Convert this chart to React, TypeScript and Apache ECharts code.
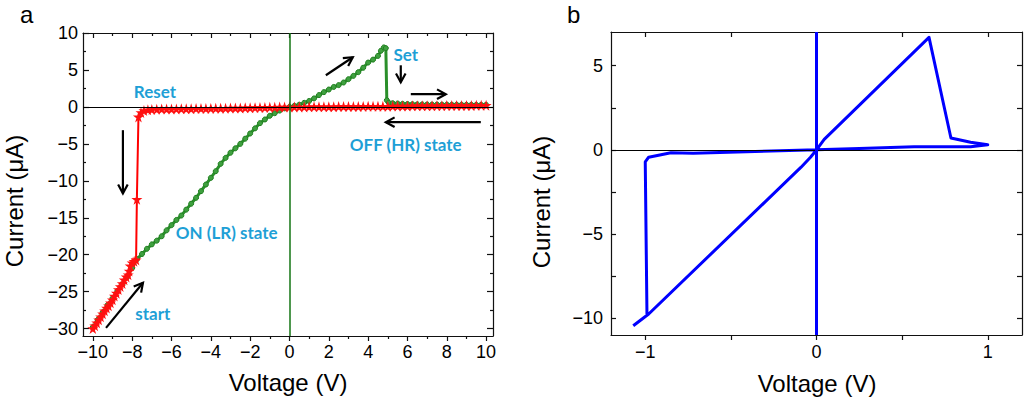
import React, { useEffect, useRef } from 'react';
import * as echarts from 'echarts';

// ---------- Panel a data (Voltage V, Current µA) ----------
const greenSweep: [number, number][] = [
  [-10, -29.8], [-9.75, -28.8], [-9.5, -27.8], [-9.25, -26.8], [-9, -25.9], [-8.75, -24.9], [-8.5, -24.0],
  [-8.25, -23.0], [-8, -21.8], [-7.75, -20.6], [-7.5, -19.9], [-7.25, -19.2], [-7, -18.6], [-6.75, -18.1],
  [-6.5, -17.5], [-6.25, -16.7], [-6, -16.0], [-5.75, -15.3], [-5.5, -14.7], [-5.25, -13.9], [-5, -13.1],
  [-4.75, -12.3], [-4.5, -11.4], [-4.25, -10.5], [-4, -9.6], [-3.75, -8.7], [-3.5, -7.7], [-3.25, -6.9],
  [-3, -6.2], [-2.75, -5.6], [-2.5, -5.0], [-2.25, -4.3], [-2, -3.6], [-1.75, -2.9], [-1.5, -2.2],
  [-1.25, -1.7], [-1, -1.2], [-0.75, -0.85], [-0.5, -0.5], [-0.25, -0.2], [0, 0], [0.25, 0.15], [0.5, 0.3],
  [0.75, 0.55], [1, 0.8], [1.25, 1.15], [1.5, 1.6], [1.75, 2.0], [2, 2.35], [2.25, 2.7], [2.5, 2.95],
  [2.75, 3.3], [3, 3.75], [3.25, 4.2], [3.5, 4.7], [3.75, 5.3], [4, 6.0], [4.25, 6.4], [4.5, 6.9],
  [4.65, 7.6], [4.8, 8.05], [4.9, 7.95], [4.95, 0.9], [5.05, 0.55], [5.25, 0.5], [5.5, 0.46], [5.75, 0.42],
  [6, 0.39], [6.25, 0.37], [6.5, 0.35], [6.75, 0.34], [7, 0.33], [7.25, 0.32], [7.5, 0.32], [7.75, 0.31],
  [8, 0.31], [8.25, 0.3], [8.5, 0.3], [8.75, 0.3], [9, 0.29], [9.25, 0.29], [9.5, 0.28], [9.75, 0.28], [10, 0.28]
];

const redSweep: [number, number][] = [
  [10, 0.22], [9.75, 0.21], [9.5, 0.21], [9.25, 0.2], [9, 0.2], [8.75, 0.19], [8.5, 0.19], [8.25, 0.18],
  [8, 0.18], [7.75, 0.17], [7.5, 0.17], [7.25, 0.16], [7, 0.15], [6.75, 0.15], [6.5, 0.14], [6.25, 0.14],
  [6, 0.13], [5.75, 0.12], [5.5, 0.12], [5.25, 0.11], [5, 0.1], [4.75, 0.1], [4.5, 0.09], [4.25, 0.08],
  [4, 0.08], [3.75, 0.07], [3.5, 0.06], [3.25, 0.06], [3, 0.05], [2.75, 0.04], [2.5, 0.04], [2.25, 0.03],
  [2, 0.03], [1.75, 0.02], [1.5, 0.02], [1.25, 0.01], [1, 0.01], [0.75, 0], [0.5, 0], [0.25, 0], [0, 0],
  [-0.25, -0.02], [-0.5, -0.03], [-0.75, -0.05], [-1, -0.06], [-1.25, -0.08], [-1.5, -0.09], [-1.75, -0.1],
  [-2, -0.12], [-2.25, -0.13], [-2.5, -0.14], [-2.75, -0.15], [-3, -0.16], [-3.25, -0.17], [-3.5, -0.18],
  [-3.75, -0.19], [-4, -0.2], [-4.25, -0.21], [-4.5, -0.22], [-4.75, -0.23], [-5, -0.24], [-5.25, -0.25],
  [-5.5, -0.26], [-5.75, -0.27], [-6, -0.28], [-6.25, -0.29], [-6.5, -0.3], [-6.75, -0.32], [-7, -0.34],
  [-7.2, -0.38], [-7.4, -0.5], [-7.55, -0.75], [-7.68, -1.35], [-7.76, -12.5], [-7.8, -20.7], [-7.9, -20.9],
  [-8.0, -21.1], [-8.1, -21.5], [-8.15, -22.2], [-8.2, -22.7], [-8.3, -23.0], [-8.4, -23.4], [-8.5, -23.9],
  [-8.6, -24.3], [-8.7, -24.7], [-8.8, -25.2], [-8.9, -25.6], [-9, -26.1], [-9.1, -26.5], [-9.2, -26.9],
  [-9.3, -27.2], [-9.4, -27.6], [-9.5, -28.0], [-9.6, -28.4], [-9.7, -28.8], [-9.8, -29.2], [-9.9, -29.6],
  [-10, -30.0]
];

// ---------- Panel b data ----------
const blueSweep: [number, number][] = [
  [-1.07, -10.45], [-0.98, -9.75], [-0.09, -1.03], [-0.035, -0.44], [0, 0], [0.045, 0.62], [0.657, 6.68],
  [0.785, 0.7], [0.9, 0.45], [1.0, 0.3], [0.9, 0.18], [0.57, 0.18], [0.25, 0.08], [0, 0], [-0.72, -0.2],
  [-0.85, -0.17], [-0.98, -0.44], [-1.0, -0.72], [-0.99, -9.75]
];

// ---------- ticks ----------
const aXMajor = [-10, -8, -6, -4, -2, 0, 2, 4, 6, 8, 10];
const aXMinor = [-9, -7, -5, -3, -1, 1, 3, 5, 7, 9];
const aYMajor = [-30, -25, -20, -15, -10, -5, 0, 5, 10];
const aYMinor = [-27.5, -22.5, -17.5, -12.5, -7.5, -2.5, 2.5, 7.5];
const bXMajor = [-1, 0, 1];
const bXMinor = [-0.5, 0.5];
const bYMajor = [-10, -5, 0, 5];
const bYMinor = [-7.5, -2.5, 2.5];

// ---------- annotations (panel a, data coords) ----------
const annoTexts = [
  { t: 'Reset', x: -6.84, y: 2.12 },
  { t: 'Set', x: 5.91, y: 7.12 },
  { t: 'OFF (HR) state', x: 5.91, y: -5.04 },
  { t: 'ON (LR) state', x: -3.19, y: -16.93 },
  { t: 'start', x: -6.95, y: -28.0 },
];
const annoArrows: [number, number, number, number][] = [
  [1.85, 4.28, 3.22, 6.72],
  [5.66, 5.63, 5.66, 3.34],
  [6.17, 1.72, 7.95, 1.72],
  [9.73, -2.07, 4.9, -2.07],
  [-8.47, -3.15, -8.47, -11.7],
  [-9.33, -29.9, -7.45, -23.8],
];

const FONT = 'Liberation Sans, Arial, sans-serif';
const minus = (v: number) => String(v).replace('-', '\u2212');
const STAR = 'path://M50,0 L61,35 L98,35 L68,57 L79,91 L50,70 L21,91 L32,57 L2,35 L39,35 Z';

function ax(grid: number, pos: string, min: number, max: number, ticks: number[], len: number,
  inside: boolean, labels: boolean, line: boolean, margin = 7) {
  return {
    type: 'value', gridIndex: grid, position: pos, min, max,
    axisLine: { show: line, onZero: false, lineStyle: { color: '#111', width: 1.2 } },
    axisTick: { show: true, customValues: ticks, length: len, inside, lineStyle: { color: '#111', width: 1.2 } },
    axisLabel: labels
      ? { show: true, customValues: ticks, formatter: minus, fontFamily: FONT, fontSize: 18, color: '#000', margin }
      : { show: false },
    splitLine: { show: false },
  };
}

export default function App() {
  const ref = useRef<HTMLDivElement>(null);
  useEffect(() => {
    const el = ref.current!;
    const chart = echarts.init(el, null, { renderer: 'svg' });
    const option: any = {
      animation: false,
      grid: [
        { left: 83, top: 33, width: 410, height: 303 },
        { left: 611, top: 32, width: 411, height: 303 },
      ],
      xAxis: [
        ax(0, 'bottom', -10.5, 10.35, aXMajor, 5, false, true, true),
        ax(0, 'bottom', -10.5, 10.35, aXMinor, 3, false, false, false),
        ax(0, 'top', -10.5, 10.35, aXMajor, 5, true, false, true),
        ax(0, 'top', -10.5, 10.35, aXMinor, 3, true, false, false),
        ax(1, 'bottom', -1.2, 1.2, bXMajor, 5, false, true, true, 8),
        ax(1, 'bottom', -1.2, 1.2, bXMinor, 5, false, false, false),
        ax(1, 'top', -1.2, 1.2, bXMajor, 5, true, false, true),
        ax(1, 'top', -1.2, 1.2, bXMinor, 5, true, false, false),
      ],
      yAxis: [
        ax(0, 'left', -31, 10, aYMajor, 6, true, true, true, 5),
        ax(0, 'left', -31, 10, aYMinor, 3, true, false, false),
        ax(0, 'right', -31, 10, aYMajor, 6, true, false, true),
        ax(0, 'right', -31, 10, aYMinor, 3, true, false, false),
        ax(1, 'left', -11, 7, bYMajor, 5, true, true, true, 8),
        ax(1, 'left', -11, 7, bYMinor, 5, true, false, false),
        ax(1, 'right', -11, 7, bYMajor, 5, true, false, true),
        ax(1, 'right', -11, 7, bYMinor, 5, true, false, false),
      ],
      series: [
        {
          type: 'line', xAxisIndex: 0, yAxisIndex: 0, data: greenSweep, z: 2,
          symbol: 'circle', symbolSize: 5, showAllSymbol: true,
          lineStyle: { color: '#2a8f2a', width: 3 },
          itemStyle: { color: '#3fa03f', borderColor: '#1f7f1f', borderWidth: 1 },
          markLine: {
            silent: true, symbol: ['none', 'none'], label: { show: false }, animation: false,
            data: [
              { yAxis: 0, lineStyle: { color: '#000', width: 1, type: 'solid' } },
              { xAxis: 0, lineStyle: { color: '#137513', width: 1.5, type: 'solid' } },
            ],
          },
        },
        {
          type: 'line', xAxisIndex: 0, yAxisIndex: 0, data: redSweep, z: 3,
          symbol: STAR, symbolSize: 11, showAllSymbol: true,
          lineStyle: { color: '#ff0000', width: 2 },
          itemStyle: { color: '#ff1010' },
        },
        {
          type: 'line', xAxisIndex: 4, yAxisIndex: 4, data: blueSweep, z: 3,
          symbol: 'none',
          lineStyle: { color: '#0000ff', width: 3, join: 'round' },
          markLine: {
            silent: true, symbol: ['none', 'none'], label: { show: false }, animation: false,
            data: [
              { yAxis: 0, lineStyle: { color: '#000', width: 1, type: 'solid' } },
              { xAxis: 0, lineStyle: { color: '#0000ff', width: 3, type: 'solid' } },
            ],
          },
        },
      ],
    };
    chart.setOption(option);

    const px = (x: number, y: number) => chart.convertToPixel({ xAxisIndex: 0, yAxisIndex: 0 } as any, [x, y]) as number[];
    const g: any[] = [];
    annoTexts.forEach((a) => {
      const p = px(a.x, a.y);
      g.push({
        type: 'text', x: p[0], y: p[1],
        style: { text: a.t, fill: '#1E9FD6', font: 'bold 17px Lato, "Open Sans", sans-serif', textAlign: 'center', textVerticalAlign: 'middle' },
      });
    });
    annoArrows.forEach(([x0, y0, x1, y1]) => {
      const p0 = px(x0, y0);
      const p1 = px(x1, y1);
      const dx = p1[0] - p0[0];
      const dy = p1[1] - p0[1];
      const d = Math.hypot(dx, dy);
      const ux = dx / d, uy = dy / d;
      const L = 10, a = 0.5;
      const rot = (s: number) => [ux * Math.cos(s) - uy * Math.sin(s), ux * Math.sin(s) + uy * Math.cos(s)];
      const r1 = rot(a), r2 = rot(-a);
      g.push({ type: 'line', shape: { x1: p0[0], y1: p0[1], x2: p1[0], y2: p1[1] }, style: { stroke: '#000', lineWidth: 2.2 } });
      g.push({
        type: 'polyline',
        shape: { points: [[p1[0] - L * r1[0], p1[1] - L * r1[1]], [p1[0], p1[1]], [p1[0] - L * r2[0], p1[1] - L * r2[1]]] },
        style: { stroke: '#000', lineWidth: 2.2, fill: null },
      });
    });
    const txt = (t: string, x: number, y: number, size: number, rot = 0, align = 'center', va = 'middle') => ({
      type: 'text', x, y, rotation: rot,
      style: { text: t, fill: '#000', font: `${size}px ${FONT}`, textAlign: align, textVerticalAlign: va },
    });
    g.push(txt('a', 20, 14, 24, 0, 'left', 'middle'));
    g.push(txt('b', 567, 14, 24, 0, 'left', 'middle'));
    g.push(txt('Voltage (V)', 288, 382, 24));
    g.push(txt('Voltage (V)', 817, 383, 24));
    g.push(txt('Current (\u03bcA)', 14, 201, 24, Math.PI / 2));
    g.push(txt('Current (\u03bcA)', 541, 202, 24, Math.PI / 2));
    chart.setOption({ graphic: g });

    return () => chart.dispose();
  }, []);
  return <div ref={ref} style={{ position: 'absolute', left: 0, top: 0, width: 1024, height: 399 }} />;
}
